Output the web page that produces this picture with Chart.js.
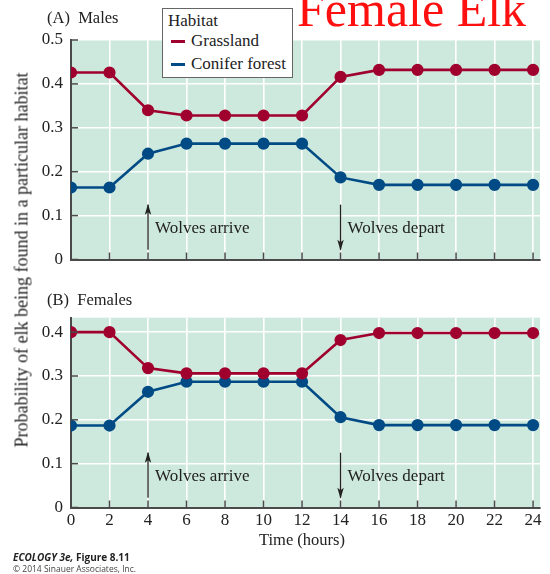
<!DOCTYPE html>
<html>
<head>
<meta charset="utf-8">
<script src="https://cdn.jsdelivr.net/npm/chart.js@4.4.0/dist/chart.umd.min.js"></script>
<style>
  html, body { margin: 0; padding: 0; background: #fff; }
  body { width: 550px; height: 574px; position: relative; overflow: hidden; font-family: "Liberation Serif", serif; }
  .abs { position: absolute; white-space: nowrap; }
  #cA { position: absolute; left: 0; top: 0; }
  #cB { position: absolute; left: 0; top: 290px; }
  #legend { position: absolute; left: 162px; top: 8px; width: 129px; height: 68px; background: #fff; border: 1.5px solid #666; z-index: 5; font-size: 17px; color: #222; }
  #legend .title { position: absolute; left: 5px; top: 2px; }
  #legend .row { position: absolute; left: 8px; }
  #legend .sw { display: inline-block; width: 14px; height: 3px; vertical-align: middle; margin-right: 6px; position: relative; top: -1px; }
</style>
</head>
<body>
<canvas id="cA" width="550" height="290"></canvas>
<canvas id="cB" width="550" height="284"></canvas>

<div class="abs" style="left:297px; top:-20px; font-size:50px; color:#ff1010; z-index:4;">Female Elk</div>
<div class="abs" style="left:47px; top:8px; font-size:16.5px; color:#222;">(A)&nbsp; Males</div>
<div class="abs" style="left:47px; top:290px; font-size:16.5px; color:#222;">(B)&nbsp; Females</div>
<div id="legend"></div>
<div class="abs" style="left:22px; top:260px; font-size:18px; color:#222; transform: translate(-50%,-50%) rotate(-90deg);">Probability of elk being found in a particular habitat</div>
<div class="abs" style="left:302px; top:540px; font-size:16.5px; color:#222; transform: translate(-50%,-50%);">Time (hours)</div>
<div class="abs" style="left:13px; top:550px; font-family:'Open Sans','Liberation Sans',sans-serif; font-size:10px; font-weight:bold; color:#222;"><i>ECOLOGY 3e,</i> Figure 8.11</div>
<div class="abs" style="left:13px; top:563px; font-family:'Open Sans','Liberation Sans',sans-serif; font-size:8.5px; color:#444;">© 2014 Sinauer Associates, Inc.</div>

<script>
// ---------- DATA ----------
const hours = [0, 2, 4, 6, 8, 10, 12, 14, 16, 18, 20, 22, 24];
const seriesNames = ["Grassland", "Conifer forest"];
const malesGrassland = [0.426, 0.426, 0.340, 0.328, 0.328, 0.328, 0.328, 0.416, 0.432, 0.432, 0.432, 0.432, 0.432];
const malesConifer   = [0.164, 0.164, 0.241, 0.264, 0.264, 0.264, 0.264, 0.187, 0.170, 0.170, 0.170, 0.170, 0.170];
const femalesGrassland = [0.400, 0.400, 0.318, 0.306, 0.306, 0.306, 0.306, 0.382, 0.398, 0.398, 0.398, 0.398, 0.398];
const femalesConifer   = [0.187, 0.187, 0.264, 0.287, 0.287, 0.287, 0.287, 0.206, 0.188, 0.188, 0.188, 0.188, 0.188];
const xTicks = [0, 2, 4, 6, 8, 10, 12, 14, 16, 18, 20, 22, 24];
const xTickLabels = ["0", "2", "4", "6", "8", "10", "12", "14", "16", "18", "20", "22", "24"];
const yTicksA = [0, 0.1, 0.2, 0.3, 0.4, 0.5];
const yTickLabelsA = ["0", "0.1", "0.2", "0.3", "0.4", "0.5"];
const yTicksB = [0, 0.1, 0.2, 0.3, 0.4];
const yTickLabelsB = ["0", "0.1", "0.2", "0.3", "0.4"];
const events = [
  { x: 4, label: "Wolves arrive", dir: "up" },
  { x: 14, label: "Wolves depart", dir: "down" }
];

// ---------- STYLE ----------
const RED = "#a0002e";
const BLUE = "#004b85";
const BG = "#cde8dc";
const AXIS = "#4a4a4a";
const TXT = "#222";
const FONT = "'Liberation Serif', serif";

// legend
const lg = document.getElementById("legend");
lg.innerHTML = '<div class="title">Habitat</div>' +
  seriesNames.map((n, i) => '<div class="row" style="top:' + (22 + i * 23) + 'px"><span class="sw" style="background:' + (i === 0 ? RED : BLUE) + '"></span>' + n + '</div>').join("");

function pts(arr) { return hours.map((h, i) => ({ x: h, y: arr[i] })); }

const bgPlugin = {
  id: "bgfill",
  beforeDraw(chart) {
    const a = chart.chartArea, c = chart.ctx;
    c.save(); c.fillStyle = BG; c.fillRect(a.left, a.top, a.right - a.left, a.bottom - a.top); c.restore();
  }
};

const innerTicks = {
  id: "innerTicks",
  afterDatasetsDraw(chart, args, opts) {
    const c = chart.ctx, xs = chart.scales.x, ys = chart.scales.y, a = chart.chartArea;
    c.save();
    c.strokeStyle = AXIS; c.lineWidth = 1.5;
    opts.yt.forEach(v => { const y = ys.getPixelForValue(v); c.beginPath(); c.moveTo(a.left, y); c.lineTo(a.left + 7, y); c.stroke(); });
    xTicks.forEach(v => { const x = xs.getPixelForValue(v); c.beginPath(); c.moveTo(x, a.bottom); c.lineTo(x, a.bottom - 7); c.stroke(); });
    // annotations
    c.fillStyle = TXT; c.strokeStyle = TXT; c.lineWidth = 1.3;
    c.font = "17px " + FONT; c.textBaseline = "middle"; c.textAlign = "left";
    events.forEach(ev => {
      const x = xs.getPixelForValue(ev.x);
      const y1 = ys.getPixelForValue(0.125), y2 = ys.getPixelForValue(0.022);
      c.beginPath(); c.moveTo(x, y1); c.lineTo(x, y2); c.stroke();
      const tip = ev.dir === "up" ? y1 : y2, s = ev.dir === "up" ? 1 : -1;
      c.beginPath(); c.moveTo(x, tip - s); c.lineTo(x - 3.2, tip + s * 10); c.lineTo(x, tip + s * 7.5); c.lineTo(x + 3.2, tip + s * 10); c.closePath(); c.fill();
      c.fillText(ev.label, x + 7, ys.getPixelForValue(0.071));
    });
    c.restore();
  }
};

function makeChart(id, gData, cData, yTicks, yLabels, yMax, topPad, xHeight, showX) {
  return new Chart(document.getElementById(id), {
    type: "line",
    data: {
      datasets: [
        { label: seriesNames[0], data: pts(gData), borderColor: RED, backgroundColor: RED, borderWidth: 2.6, pointRadius: 4.8, pointHoverRadius: 4.8, tension: 0 },
        { label: seriesNames[1], data: pts(cData), borderColor: BLUE, backgroundColor: BLUE, borderWidth: 2.6, pointRadius: 4.8, pointHoverRadius: 4.8, tension: 0 }
      ]
    },
    options: {
      responsive: false, animation: false, devicePixelRatio: 1,
      layout: { padding: { left: 0, top: topPad, right: 10, bottom: 0 } },
      plugins: { legend: { display: false }, tooltip: { enabled: false }, innerTicks: { yt: yTicks } },
      scales: {
        x: {
          type: "linear", min: 0, max: 24.36,
          afterBuildTicks: s => { s.ticks = xTicks.map(v => ({ value: v })); },
          afterFit: s => { s.height = xHeight; },
          grid: { color: "#ffffff", lineWidth: 1.6, drawTicks: false },
          border: { color: AXIS, width: 2 },
          ticks: { display: showX, padding: 3, color: TXT, font: { family: FONT, size: 17 }, maxRotation: 0,
                   callback: (v) => xTickLabels[xTicks.indexOf(v)] }
        },
        y: {
          min: 0, max: yMax,
          afterBuildTicks: s => { s.ticks = yTicks.map(v => ({ value: v })); },
          afterFit: s => { s.width = 71; },
          grid: { color: "#ffffff", lineWidth: 1.6, drawTicks: false },
          border: { color: AXIS, width: 2 },
          ticks: { padding: 8, color: TXT, font: { family: FONT, size: 17 },
                   callback: (v) => yLabels[yTicks.findIndex(t => Math.abs(t - v) < 1e-9)] }
        }
      }
    },
    plugins: [bgPlugin, innerTicks]
  });
}

makeChart("cA", malesGrassland, malesConifer, yTicksA, yTickLabelsA, 0.5, 40, 30.5, false);
makeChart("cB", femalesGrassland, femalesConifer, yTicksB, yTickLabelsB, 0.433, 27.7, 66.5, true);
</script>
</body>
</html>
